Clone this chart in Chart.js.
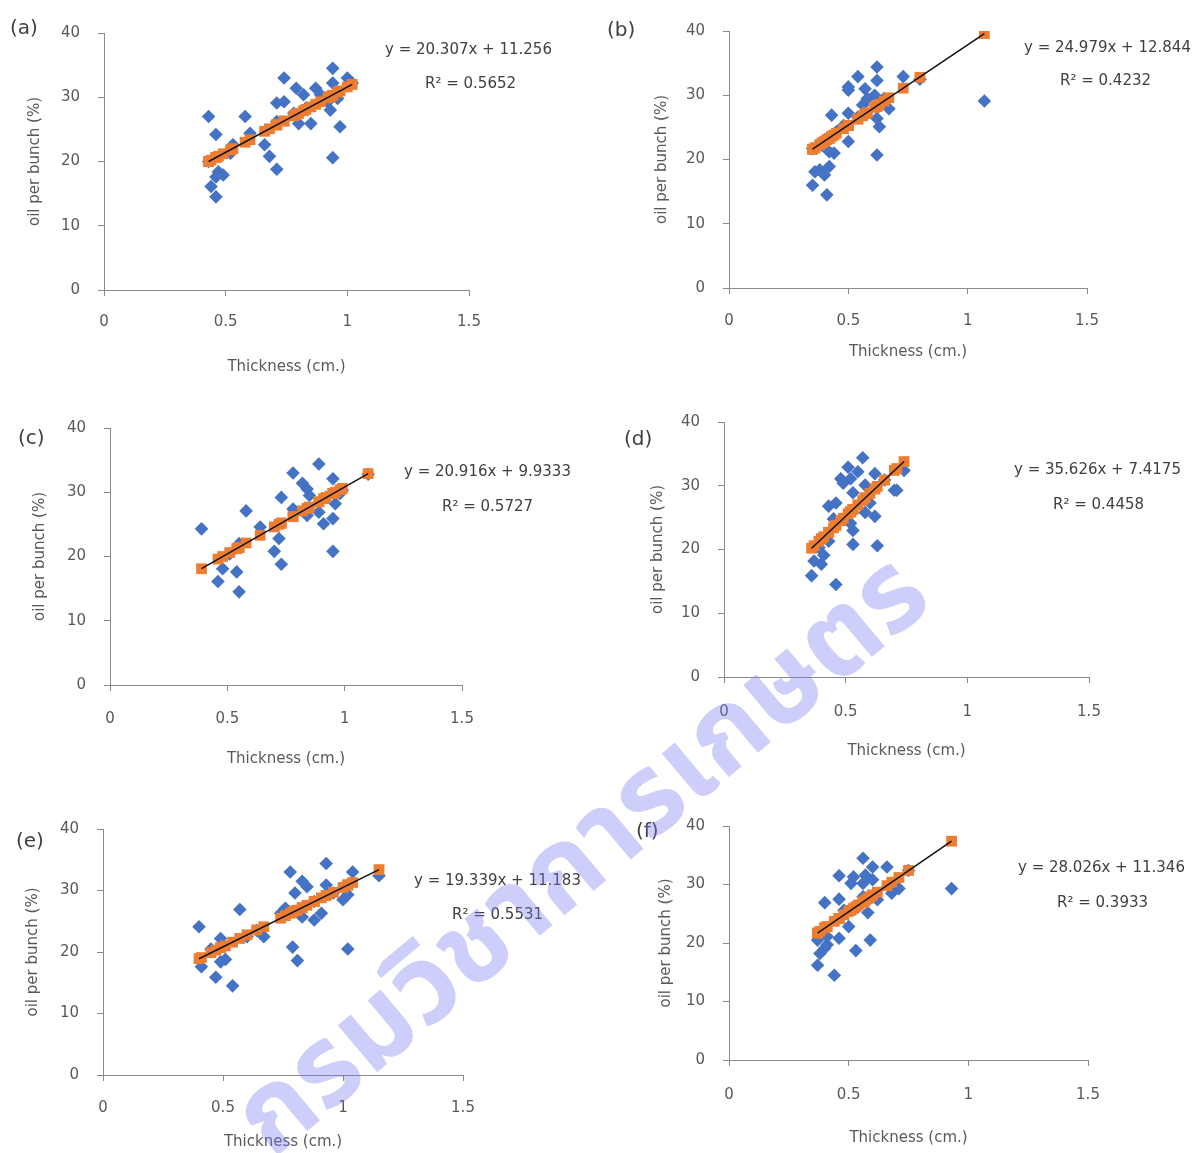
<!DOCTYPE html>
<html><head><meta charset="utf-8">
<script src="https://cdn.jsdelivr.net/npm/chart.js@4.4.0/dist/chart.umd.min.js"></script>
<style>
html,body{margin:0;padding:0;background:#fff;}
body{width:1196px;height:1153px;position:relative;overflow:hidden;font-family:'DejaVu Sans',sans-serif;}
canvas{position:absolute;}
.txt{position:absolute;white-space:nowrap;color:#404040;font-size:15px;line-height:18px;}
.lbl{position:absolute;white-space:nowrap;color:#404040;font-size:20px;line-height:24px;}
.wm{position:absolute;left:582px;top:856px;transform:translate(-50%,-50%) rotate(-40deg);font-size:112px;font-weight:bold;color:rgba(120,120,245,0.36);white-space:nowrap;pointer-events:none;font-family:'Noto Sans Thai','Noto Looped Thai','Loma','Garuda','Noto Sans',sans-serif;line-height:1;}
</style></head><body>
<script>
const xTicks = [0, 0.5, 1, 1.5];
const xTickLabels = ['0', '0.5', '1', '1.5'];
const yTicks = [0, 10, 20, 30, 40];
const yTickLabels = ['0', '10', '20', '30', '40'];
const xTitle = 'Thickness (cm.)';
const yTitle = 'oil per bunch (%)';
const panelLabels = ['(a)', '(b)', '(c)', '(d)', '(e)', '(f)'];
const equations = ['y = 20.307x + 11.256', 'y = 24.979x + 12.844', 'y = 20.916x + 9.9333', 'y = 35.626x + 7.4175', 'y = 19.339x + 11.183', 'y = 28.026x + 11.346'];
const rSquared = ['R² = 0.5652', 'R² = 0.4232', 'R² = 0.5727', 'R² = 0.4458', 'R² = 0.5531', 'R² = 0.3933'];
const watermark = 'กรมวิชาการเกษตร';

// (a)
const aX = [0.43,0.46,0.44,0.46,0.47,0.49,0.46,0.52,0.58,0.60,0.66,0.68,0.71,0.71,0.74,0.74,0.79,0.80,0.82,0.85,0.87,0.89,0.94,0.94,0.93,0.94,0.97,1.00,0.96,0.92,0.83,0.78,0.71,0.53,1.02,0.43];
const aY = [27.0,24.2,16.1,14.5,18.4,17.9,17.6,21.3,27.0,24.4,22.6,20.8,18.8,29.1,29.3,33.0,31.4,25.9,30.4,25.9,31.4,30.4,34.5,32.2,28.0,20.6,25.4,33.0,29.8,29.3,28.3,27.5,26.2,22.6,32.2,20.0];
const aFit = [20.0,20.6,20.2,20.6,20.8,21.2,20.6,21.8,23.0,23.4,24.7,25.1,25.7,25.7,26.3,26.3,27.3,27.5,27.9,28.5,28.9,29.3,30.3,30.3,30.1,30.3,31.0,31.6,30.8,29.9,28.1,27.1,25.7,22.0,32.0,20.0];
const aLineX = [0.43, 1.02];
const aLineY = [20.0, 32.0];
// (b)
const bX = [0.35,0.36,0.41,0.38,0.40,0.42,0.44,0.43,0.42,0.50,0.50,0.50,0.50,0.54,0.57,0.62,0.62,0.62,0.63,0.62,0.73,1.07,0.61,0.58,0.56,0.67,0.54,0.48,0.45,0.65,0.35,0.39,0.80];
const bY = [16.0,18.1,14.5,18.4,17.6,18.9,21.0,26.9,21.2,31.3,30.8,22.8,27.2,32.9,31.0,34.4,32.3,20.7,25.1,26.4,32.9,29.1,30.0,29.5,28.5,27.9,26.6,25.3,24.3,29.5,21.7,22.2,32.5];
const bFit = [21.6,21.8,23.1,22.3,22.8,23.3,23.8,23.6,23.3,25.3,25.3,25.3,25.3,26.3,27.1,28.3,28.3,28.3,28.6,28.3,31.1,39.6,28.1,27.3,26.8,29.6,26.3,24.8,24.1,29.1,21.6,22.6,32.8];
const bLineX = [0.35, 1.07];
const bLineY = [21.6, 39.6];
// (c)
const cX = [0.39,0.46,0.48,0.54,0.55,0.58,0.64,0.70,0.72,0.73,0.73,0.78,0.82,0.84,0.84,0.89,0.89,0.91,0.95,0.95,0.95,0.96,0.98,0.92,0.85,0.78,0.51,0.55,1.10,0.99];
const cY = [24.3,16.1,18.1,17.6,14.5,27.1,24.6,20.8,22.8,18.8,29.2,33.0,31.4,30.5,26.4,34.4,26.9,25.1,32.1,20.8,25.9,28.2,29.8,29.2,29.5,27.4,20.4,22.0,32.8,30.3];
const cFit = [18.1,19.6,20.0,21.2,21.4,22.1,23.3,24.6,25.0,25.2,25.2,26.2,27.1,27.5,27.5,28.5,28.5,29.0,29.8,29.8,29.8,30.0,30.4,29.2,27.7,26.2,20.6,21.4,32.9,30.6];
const cLineX = [0.39, 1.10];
const cLineY = [18.1, 32.9];
// (d)
const dX = [0.36,0.46,0.37,0.40,0.41,0.43,0.46,0.48,0.51,0.52,0.57,0.55,0.53,0.53,0.52,0.63,0.62,0.62,0.58,0.70,0.71,0.74,0.49,0.43,0.39,0.45,0.53,0.60,0.58,0.66];
const dY = [15.9,14.5,18.2,17.7,19.1,26.8,27.3,31.1,32.9,31.1,34.4,32.2,20.8,23.0,24.1,20.6,25.2,31.9,30.1,29.3,29.3,32.4,30.4,21.3,20.3,24.8,28.9,27.3,25.8,30.9];
const dFit = [20.2,23.8,20.6,21.7,22.0,22.7,23.8,24.5,25.6,25.9,27.7,27.0,26.3,26.3,25.9,29.9,29.5,29.5,28.1,32.4,32.7,33.8,24.9,22.7,21.3,23.4,26.3,28.8,28.1,30.9];
const dLineX = [0.36, 0.74];
const dLineY = [20.2, 33.8];
// (e)
const eX = [0.40,0.41,0.47,0.54,0.49,0.51,0.49,0.57,0.67,0.78,0.79,0.81,0.80,0.83,0.85,0.83,0.88,0.91,0.93,0.93,1.00,1.02,1.02,1.04,1.15,0.96,0.76,0.74,0.88,1.02,0.45,0.60,0.64];
const eY = [24.1,17.6,15.9,14.5,18.4,18.8,22.2,26.9,22.5,33.0,20.8,18.6,29.6,31.5,30.6,25.7,25.2,26.3,34.4,30.9,28.5,29.3,20.5,33.0,32.4,29.6,27.1,26.3,28.2,30.9,20.5,22.5,23.5];
const eFit = [18.9,19.1,20.3,21.6,20.7,21.0,20.7,22.2,24.1,26.3,26.5,26.8,26.7,27.2,27.6,27.2,28.2,28.8,29.2,29.2,30.5,30.9,30.9,31.3,33.4,29.7,25.9,25.5,28.2,30.9,19.9,22.8,23.6];
const eLineX = [0.40, 1.15];
const eLineY = [18.9, 33.4];
// (f)
const fX = [0.37,0.44,0.38,0.40,0.41,0.40,0.46,0.46,0.46,0.50,0.53,0.52,0.56,0.56,0.59,0.58,0.60,0.66,0.71,0.93,0.57,0.51,0.41,0.48,0.54,0.62,0.60,0.68,0.37,0.56,0.75];
const fY = [16.2,14.5,18.2,19.1,19.7,26.9,31.5,27.5,20.8,22.8,18.7,31.3,34.5,30.2,20.5,25.2,33.0,33.0,29.3,29.3,31.6,30.2,21.1,25.6,26.2,27.4,30.8,28.5,20.5,27.9,32.4];
const fFit = [21.7,23.7,22.0,22.6,22.8,22.6,24.2,24.2,24.2,25.4,26.2,25.9,27.0,27.0,27.9,27.6,28.2,29.8,31.2,37.4,27.3,25.6,22.8,24.8,26.5,28.7,28.2,30.4,21.7,27.0,32.4];
const fLineX = [0.37, 0.93];
const fLineY = [21.7, 37.4];

const series = [
  [aX, aY, aFit, aLineX, aLineY],
  [bX, bY, bFit, bLineX, bLineY],
  [cX, cY, cFit, cLineX, cLineY],
  [dX, dY, dFit, dLineX, dLineY],
  [eX, eY, eFit, eLineX, eLineY],
  [fX, fY, fFit, fLineX, fLineY]
];

// layout (page pixels)
const layout = [
  {L:0,  T:0,  W:598,H:395, l:104,r:469, t:33, b:290, xl:322, yT:35,  xT:367, lab:[10,15],  eq:[385,40],  r2:[425,74]},
  {L:598,T:0,  W:598,H:395, l:729,r:1087,t:31, b:288, xl:321, yT:662, xT:352, lab:[607,17], eq:[1024,38], r2:[1060,71]},
  {L:0,  T:395,W:598,H:400, l:110,r:462, t:428,b:685, xl:719, yT:40,  xT:759, lab:[18,425], eq:[404,462], r2:[442,497]},
  {L:598,T:395,W:598,H:400, l:724,r:1089,t:416,b:677, xl:712, yT:658, xT:751, lab:[624,426],eq:[1014,460],r2:[1053,495]},
  {L:0,  T:795,W:598,H:358, l:103,r:463, t:829,b:1075,xl:1108,yT:33,  xT:1142,lab:[16,828], eq:[414,871], r2:[452,905]},
  {L:598,T:795,W:598,H:358, l:729,r:1088,t:826,b:1060,xl:1095,yT:666, xT:1138,lab:[636,818],eq:[1018,858],r2:[1057,893]}
];

const FONT = 'DejaVu Sans';
const GREY = '#8a8a8a';

function addText(cls, text, x, y) {
  const d = document.createElement('div');
  d.className = cls;
  d.textContent = text;
  d.style.left = x + 'px';
  d.style.top = y + 'px';
  document.body.appendChild(d);
}

layout.forEach((g, i) => {
  const [xs, ys, fit, lx, ly] = series[i];
  const cv = document.createElement('canvas');
  cv.width = g.W; cv.height = g.H;
  cv.style.left = g.L + 'px'; cv.style.top = g.T + 'px';
  cv.style.width = g.W + 'px'; cv.style.height = g.H + 'px';
  document.body.appendChild(cv);

  const yW = g.l - g.L;
  const xH = (g.T + g.H) - g.b;
  new Chart(cv.getContext('2d'), {
    type: 'scatter',
    data: {
      datasets: [
        { label: 'trend', data: lx.map((v, k) => ({x: v, y: ly[k]})), showLine: true, borderColor: '#111', borderWidth: 1.5, pointRadius: 0, order: 0 },
        { label: 'fit', data: xs.map((v, k) => ({x: v, y: fit[k]})), pointStyle: 'rect', pointRadius: 7.6, backgroundColor: '#ED7D31', borderWidth: 0, order: 1 },
        { label: 'obs', data: xs.map((v, k) => ({x: v, y: ys[k]})), pointStyle: 'rectRot', pointRadius: 6.8, backgroundColor: '#4472C4', borderWidth: 0, order: 2 }
      ]
    },
    options: {
      responsive: false,
      animation: false,
      events: [],
      layout: { padding: { top: g.t - g.T, right: (g.L + g.W) - g.r, bottom: 0, left: 0 } },
      plugins: { legend: { display: false }, tooltip: { enabled: false } },
      scales: {
        x: {
          type: 'linear', min: xTicks[0], max: xTicks[xTicks.length - 1],
          afterBuildTicks: s => { s.ticks = xTicks.map(v => ({value: v})); },
          afterFit: s => { s.height = xH; },
          grid: { drawOnChartArea: false, drawTicks: true, tickLength: 6, color: GREY },
          border: { display: true, color: GREY, width: 1 },
          ticks: { color: '#595959', font: { family: FONT, size: 15 }, padding: (g.xl - g.b) - 15, maxRotation: 0,
                   callback: (v, idx) => xTickLabels[idx] },
          title: { display: true, text: xTitle, color: '#595959', font: { family: FONT, size: 15 }, padding: { top: 0, bottom: (g.T + g.H) - g.xT - 9 } }
        },
        y: {
          type: 'linear', min: yTicks[0], max: yTicks[yTicks.length - 1],
          afterBuildTicks: s => { s.ticks = yTicks.map(v => ({value: v})); },
          afterFit: s => { s.width = yW; },
          grid: { drawOnChartArea: false, drawTicks: true, tickLength: 6, color: GREY },
          border: { display: true, color: GREY, width: 1 },
          ticks: { color: '#595959', font: { family: FONT, size: 15 }, padding: 18,
                   callback: (v, idx) => yTickLabels[idx] },
          title: { display: true, text: yTitle, color: '#595959', font: { family: FONT, size: 15 }, padding: { top: (g.yT - g.L) - 9, bottom: 0 } }
        }
      }
    }
  });

  addText('lbl', panelLabels[i], g.lab[0], g.lab[1]);
  addText('txt', equations[i], g.eq[0], g.eq[1]);
  addText('txt', rSquared[i], g.r2[0], g.r2[1]);
});

const wm = document.createElement('div');
wm.className = 'wm';
wm.textContent = watermark;
document.body.appendChild(wm);
</script>
</body></html>
